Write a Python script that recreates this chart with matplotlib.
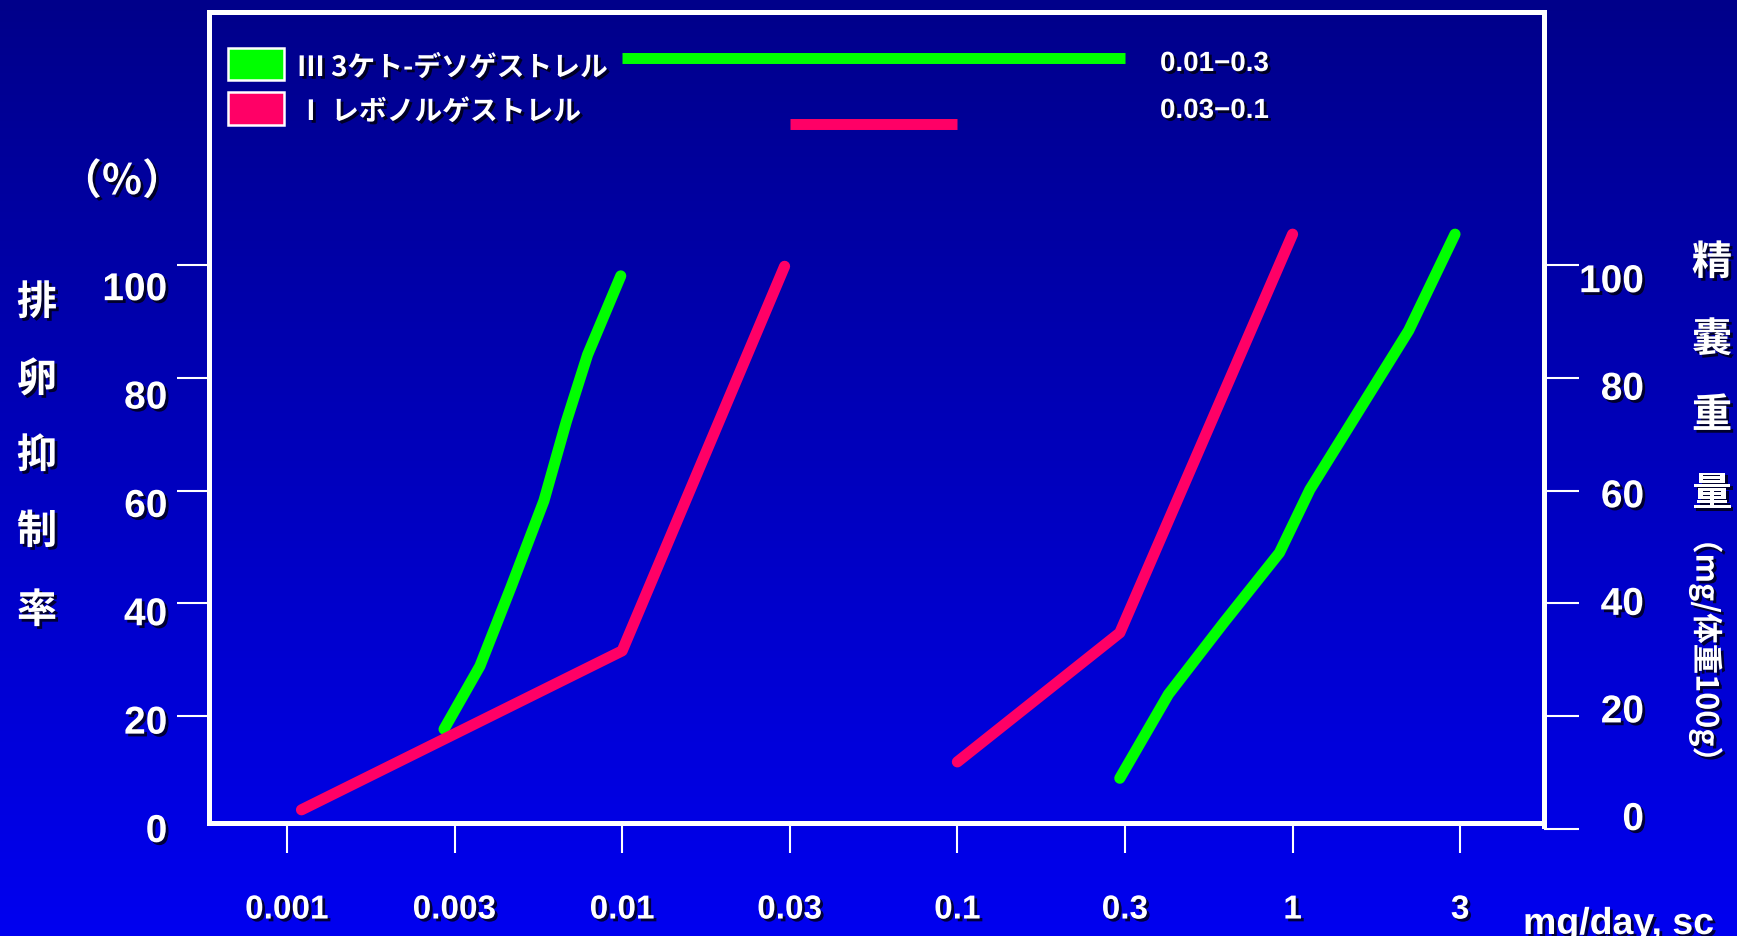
import numpy as np
import matplotlib
matplotlib.use("Agg")
import matplotlib.pyplot as plt
from matplotlib import patheffects as pe
from matplotlib.patches import Rectangle
from matplotlib.colors import LinearSegmentedColormap
from matplotlib.transforms import ScaledTranslation

# ---- data -------------------------------------------------------------
# dose axis (mg/day, sc)
dose_ticks = [0.001, 0.003, 0.01, 0.03, 0.1, 0.3, 1, 3]
dose_tick_labels = ["0.001", "0.003", "0.01", "0.03", "0.1", "0.3", "1", "3"]
y_ticks = [0, 20, 40, 60, 80, 100]
y_tick_labels = ["0", "20", "40", "60", "80", "100"]

# ovulation inhibition (%)
ovu_keto_dose = [0.0028, 0.0036, 0.0045, 0.0057, 0.0067, 0.0078, 0.0099]
ovu_keto_pct = [17.7, 28.9, 42.9, 58.2, 72.3, 84.1, 98.1]
ovu_levo_dose = [0.0011, 0.01, 0.029]
ovu_levo_pct = [3.4, 31.6, 99.8]

# seminal vesicle weight (mg / 100 g body weight)
sv_keto_dose = [0.29, 0.41, 0.61, 0.91, 1.12, 2.14, 2.9]
sv_keto_wt = [9.0, 23.9, 36.6, 49.0, 60.2, 88.4, 105.5]
sv_levo_dose = [0.1, 0.29, 1.0]
sv_levo_wt = [11.9, 34.8, 105.5]

# dose ranges between the two effects
keto_range = [0.01, 0.3]
levo_range = [0.03, 0.1]
range_labels = ["0.01\u22120.3", "0.03\u22120.1"]

series_names = ["\u2162 3ケト-デソゲストレル", "\u2160 レボノルゲストレル"]
series_colors = ["#00FF00", "#FF0066"]

# ---- styling -------------------------------------------------------------
JP = ["Noto Sans CJK JP", "DejaVu Sans"]
NUM = ["Liberation Sans", "DejaVu Sans"]
SHADOW = [pe.withSimplePatchShadow(offset=(2, -2), shadow_rgbFace="black", alpha=0.75)]
WHITE = "white"

W, H = 1737, 936
L3 = np.log10(3)


def fwd(d):
    """Dose -> axis position: 1-3-10 steps equally spaced."""
    d = np.asarray(d, float)
    with np.errstate(divide="ignore", invalid="ignore"):
        lg = np.log10(d)
        dec = np.floor(lg + 1e-12)
        m = lg - dec
        p = np.where(m < L3, m / L3, 1 + (m - L3) / (1 - L3))
    return 2 * (dec + 3) + p


def inv(p):
    p = np.asarray(p, float)
    k = np.floor(p / 2)
    r = p - 2 * k
    m = np.where(r < 1, r * L3, L3 + (r - 1) * (1 - L3))
    return 10 ** (k - 3 + m)


fig = plt.figure(figsize=(W / 100, H / 100), dpi=100)

# background gradient
bg = fig.add_axes([0, 0, 1, 1], zorder=-10)
cmap = LinearSegmentedColormap.from_list("bg", ["#00008A", "#0000F0"])
bg.imshow(np.linspace(0, 1, 256)[:, None], aspect="auto", cmap=cmap,
          extent=[0, 1, 0, 1], origin="upper")
bg.axis("off")

ax_l, ax_r, ax_t, ax_b = 209, 1544, 12, 829
ax = fig.add_axes([ax_l / W, 1 - ax_b / H, (ax_r - ax_l) / W, (ax_b - ax_t) / H])
ax.set_facecolor("none")
ax.set_xscale("function", functions=(fwd, inv))
ax.set_xlim(inv(-0.465), inv(7.5))
Y_TOP = 144.9
BASE = 1.06  # frame line sits just above the zero level
ax.set_ylim(0, Y_TOP)

for s in ax.spines.values():
    s.set_color(WHITE)
    s.set_linewidth(3.6)
ax.spines["bottom"].set_position(("data", BASE))
ax.spines["left"].set_bounds(BASE, Y_TOP)
ax.spines["right"].set_bounds(0.5, Y_TOP)

LW = 8
ax.plot(ovu_keto_dose, ovu_keto_pct, color=series_colors[0], lw=LW,
        solid_capstyle="round", solid_joinstyle="round")
ax.plot(sv_keto_dose, sv_keto_wt, color=series_colors[0], lw=LW,
        solid_capstyle="round", solid_joinstyle="round")
ax.plot(ovu_levo_dose, ovu_levo_pct, color=series_colors[1], lw=LW,
        solid_capstyle="round", solid_joinstyle="round")
ax.plot(sv_levo_dose, sv_levo_wt, color=series_colors[1], lw=LW,
        solid_capstyle="round", solid_joinstyle="round")


def axf(x, y):
    return ((x - ax_l) / (ax_r - ax_l), (ax_b - y) / (ax_b - ax_t))


# dose-range bars
xt = ax.get_xaxis_transform()
for rng, col, yc in zip([keto_range, levo_range], series_colors, [57.7, 123.5]):
    yf = axf(0, yc)[1]
    ax.plot(rng, [yf, yf], transform=xt, color=col, lw=7.9, solid_capstyle="butt")

for lab, ycen in zip(range_labels, [64, 111]):
    ax.text(*axf(1160, ycen), lab, transform=ax.transAxes, ha="left", va="center",
            color=WHITE, fontsize=20, fontweight="bold", family=NUM,
            path_effects=SHADOW)

# legend swatches and names
for (top, bot), name, col, ycen in zip([(47.6, 80), (92, 125)], series_names,
                                        series_colors, [68, 112]):
    x0, y0 = axf(228, bot)
    x1, y1 = axf(284, top)
    ax.add_patch(Rectangle((x0, y0), x1 - x0, y1 - y0, transform=ax.transAxes,
                           facecolor=col, edgecolor=WHITE, lw=1.8, clip_on=False))
    ax.text(*axf(297, ycen), name, transform=ax.transAxes, ha="left", va="center",
            color=WHITE, fontsize=20, fontweight="bold", family=JP,
            path_effects=SHADOW)

# x axis
ax.set_xticks(dose_ticks, labels=dose_tick_labels, fontsize=24,
              fontweight="bold", family=NUM, color=WHITE)
ax.minorticks_off()
ax.tick_params(axis="x", direction="out", length=21.5, width=1.5,
               color=WHITE, pad=30)
for lab in ax.get_xticklabels():
    lab.set_path_effects(SHADOW)

# right y axis (shares the left scale)
ax2 = ax.twinx()
ax2.set_ylim(ax.get_ylim())
for s in ax2.spines.values():
    s.set_visible(False)
ax2.set_yticks(y_ticks, labels=y_tick_labels, fontsize=28, fontweight="bold",
               family=NUM, color=WHITE, ha="right")
ax2.tick_params(axis="y", direction="out", length=25, width=1.5, color=WHITE, pad=47)
for v, lab in zip(y_ticks, ax2.get_yticklabels()):
    lab.set_path_effects(SHADOW)
    dy = (-13 + 0.26 * v) / 100
    lab.set_transform(lab.get_transform() +
                      ScaledTranslation(0, -dy, fig.dpi_scale_trans))

# left y axis
ax.set_yticks(y_ticks, labels=y_tick_labels, fontsize=28, fontweight="bold",
              family=NUM, color=WHITE)
ax.tick_params(axis="y", direction="out", length=23, width=1.5, color=WHITE, pad=7)
for v, lab in zip(y_ticks, ax.get_yticklabels()):
    lab.set_path_effects(SHADOW)
    dy = (-1 + 0.22 * v) / 100
    lab.set_transform(lab.get_transform() +
                      ScaledTranslation(0, -dy, fig.dpi_scale_trans))
# no tick mark at the left zero, only its label
ax.yaxis.get_major_ticks()[0].tick1line.set_visible(False)


def ftext(x, y, s, **kw):
    fig.text(x / W, 1 - y / H, s, color=WHITE, path_effects=SHADOW, **kw)


# axis titles
ftext(122, 182, "（%）", ha="center", va="center", fontsize=30,
      fontweight="bold", family=JP)
for ch, yc in zip("排卵抑制率", [303, 380, 456, 532, 611]):
    ftext(37, yc, ch, ha="center", va="center", fontsize=29,
          fontweight="bold", family=JP)
for ch, yc in zip("精嚢重量", [263, 340, 416, 494]):
    ftext(1712, yc, ch, ha="center", va="center", fontsize=29,
          fontweight="bold", family=JP)
ftext(1706, 650, "（mg/体重100g）", ha="center", va="center", fontsize=22,
      fontweight="bold", family=JP, rotation=-90)
ftext(1523, 906, "mg/day, sc", ha="left", va="top", fontsize=27,
      fontweight="bold", family=NUM)

fig.savefig("out.png", dpi=100)
